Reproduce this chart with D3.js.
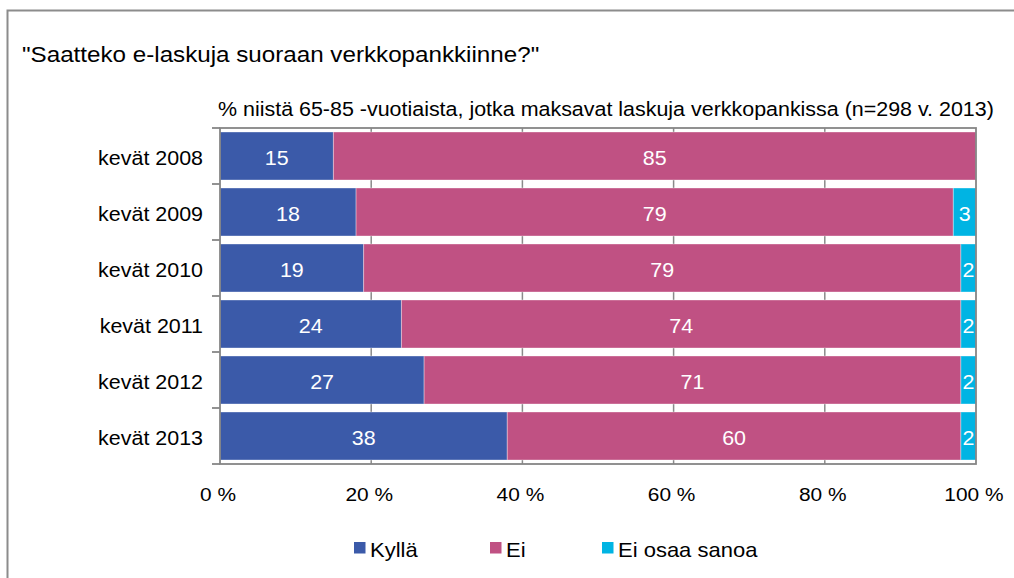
<!DOCTYPE html>
<html>
<head>
<meta charset="utf-8">
<script src="https://cdn.jsdelivr.net/npm/d3@7"></script>
<style>
  body { margin: 0; background: #fff; }
  text { font-family: "Liberation Sans", Arial, sans-serif; fill: #000; }
</style>
</head>
<body>
<div id="chart"></div>
<script>
// data
const categories = ["kevät 2008", "kevät 2009", "kevät 2010", "kevät 2011", "kevät 2012", "kevät 2013"];
const kylla = [15, 18, 19, 24, 27, 38];
const ei = [85, 79, 79, 74, 71, 60];
const eiOsaa = [0, 3, 2, 2, 2, 2];
const seriesNames = ["Kyllä", "Ei", "Ei osaa sanoa"];
const tickValues = [0, 20, 40, 60, 80, 100];
const tickLabels = ["0\u00a0%", "20\u00a0%", "40\u00a0%", "60\u00a0%", "80\u00a0%", "100\u00a0%"];
const titleText = "\"Saatteko e-laskuja suoraan verkkopankkiinne?\"";
const subtitleText = "% niistä 65-85 -vuotiaista, jotka maksavat laskuja verkkopankissa (n=298 v. 2013)";

function init() {
    const w = 1014, h = 578;
    const colors = ["#3b5aa9", "#c05183", "#00b4e3"];
    const sx = 1.1; // text in the picture is a bit wide

    const svg = d3.select("#chart").append("svg")
        .attr("width", w)
        .attr("height", h);

    // helper for horizontally stretched text
    function label(g, x, y, txt, size, anchor) {
        return g.append("text")
            .attr("transform", `translate(${x},${y}) scale(${sx},1)`)
            .attr("text-anchor", anchor || "start")
            .attr("font-size", size + "px")
            .text(txt);
    }

    // outer frame
    svg.append("rect")
        .attr("x", 7.5).attr("y", 10.5)
        .attr("width", 1030).attr("height", 600)
        .attr("fill", "none")
        .attr("stroke", "#8c8c8c")
        .attr("stroke-width", 2);

    label(svg, 22, 62, titleText, 22);
    label(svg, 218, 116, subtitleText, 19.5);

    const table = categories.map((c, i) => ({
        cat: c, "Kyllä": kylla[i], "Ei": ei[i], "Ei osaa sanoa": eiOsaa[i]
    }));

    const x = d3.scaleLinear().domain([0, 100]).range([220, 976]);
    const y = d3.scaleBand()
        .domain(categories)
        .range([128, 464])
        .paddingInner(0.143)
        .paddingOuter(0.0715);

    // vertical gridlines
    svg.selectAll("line.grid")
        .data(tickValues.slice(1, -1))
        .enter().append("line")
        .attr("class", "grid")
        .attr("x1", d => x(d)).attr("x2", d => x(d))
        .attr("y1", 128).attr("y2", 464)
        .attr("stroke", "#8a8a8a")
        .attr("stroke-width", 1.5);

    const stacked = d3.stack().keys(seriesNames)(table);

    const layers = svg.selectAll("g.layer")
        .data(stacked)
        .enter().append("g")
        .attr("class", "layer")
        .attr("fill", (d, i) => colors[i]);

    layers.selectAll("rect")
        .data(d => d.filter(p => p[1] - p[0] > 0))
        .enter().append("rect")
        .attr("x", d => x(d[0]))
        .attr("y", d => y(d.data.cat))
        .attr("width", d => x(d[1]) - x(d[0]))
        .attr("height", y.bandwidth())
        .attr("stroke", "rgba(255,255,255,0.35)")
        .attr("stroke-width", 1);

    // values on bars
    stacked.forEach(layer => {
        layer.forEach(p => {
            const v = p[1] - p[0];
            if (v <= 0) return;
            label(svg, (x(p[0]) + x(p[1])) / 2, y(p.data.cat) + y.bandwidth() / 2 + 8.5, v, 19.5, "middle")
                .style("fill", "#fff");
        });
    });

    // plot area border
    svg.append("rect")
        .attr("x", 220).attr("y", 128)
        .attr("width", 756).attr("height", 336)
        .attr("fill", "none")
        .attr("stroke", "#868686")
        .attr("stroke-width", 1.8);

    // category ticks and labels
    const bounds = [128].concat(categories.map(c => y(c) + y.bandwidth() + y.step() * y.paddingInner() / 2));
    svg.selectAll("line.ctick")
        .data(bounds)
        .enter().append("line")
        .attr("class", "ctick")
        .attr("x1", 212).attr("x2", 220)
        .attr("y1", d => d).attr("y2", d => d)
        .attr("stroke", "#868686")
        .attr("stroke-width", 1.8);

    categories.forEach(c => {
        label(svg, 203, y(c) + y.bandwidth() / 2 + 8.5, c, 19.5, "end");
    });

    // x tick labels
    tickValues.forEach((t, i) => {
        label(svg, x(t) - 2, 500.5, tickLabels[i], 19, "middle");
    });

    // legend
    const legendX = [354, 490, 602];
    seriesNames.forEach((s, i) => {
        svg.append("rect")
            .attr("x", legendX[i]).attr("y", 542)
            .attr("width", 11.5).attr("height", 11.5)
            .attr("fill", colors[i]);
        label(svg, legendX[i] + 16, 556.5, s, 20);
    });
}

window.onload = init;
</script>
</body>
</html>
